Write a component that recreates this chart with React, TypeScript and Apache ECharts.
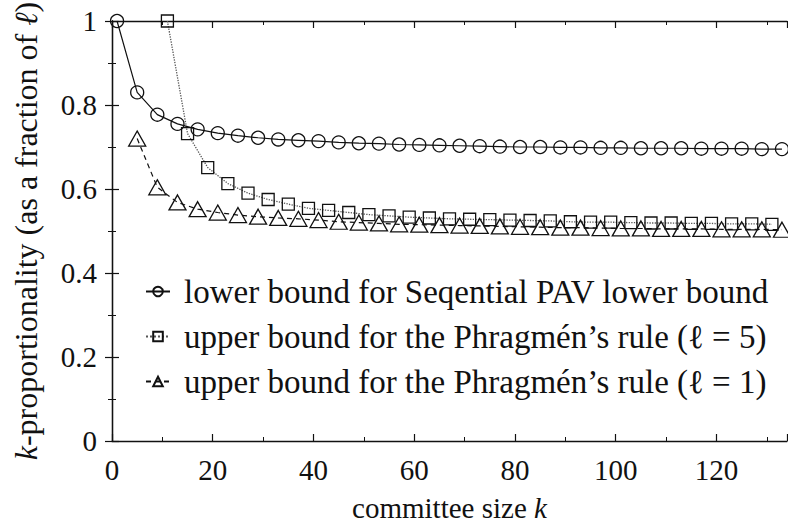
import React, { useEffect, useRef } from "react";
import * as echarts from "echarts";

const circleK = [1, 5, 9, 13, 17, 21, 25, 29, 33, 37, 41, 45, 49, 53, 57, 61, 65, 69, 73, 77, 81, 85, 89, 93, 97, 101, 105, 109, 113, 117, 121, 125, 129, 133];
const circleV = [1.0, 0.83, 0.777, 0.755, 0.742, 0.733, 0.727, 0.722, 0.718, 0.716, 0.714, 0.711, 0.709, 0.708, 0.706, 0.705, 0.704, 0.703, 0.702, 0.701, 0.7, 0.7, 0.699, 0.699, 0.698, 0.698, 0.697, 0.697, 0.697, 0.696, 0.696, 0.696, 0.695, 0.695];

const squareK = [11, 15, 19, 23, 27, 31, 35, 39, 43, 47, 51, 55, 59, 63, 67, 71, 75, 79, 83, 87, 91, 95, 99, 103, 107, 111, 115, 119, 123, 127, 131];
const squareV = [1.0, 0.732, 0.651, 0.613, 0.59, 0.575, 0.564, 0.554, 0.549, 0.544, 0.539, 0.536, 0.533, 0.531, 0.529, 0.528, 0.527, 0.526, 0.525, 0.524, 0.522, 0.521, 0.521, 0.52, 0.519, 0.519, 0.518, 0.518, 0.517, 0.517, 0.516];

const triangleK = [5, 9, 13, 17, 21, 25, 29, 33, 37, 41, 45, 49, 53, 57, 61, 65, 69, 73, 77, 81, 85, 89, 93, 97, 101, 105, 109, 113, 117, 121, 125, 129, 133];
const triangleV = [0.72, 0.604, 0.568, 0.552, 0.544, 0.538, 0.534, 0.531, 0.529, 0.526, 0.522, 0.52, 0.518, 0.516, 0.515, 0.514, 0.513, 0.512, 0.511, 0.51, 0.509, 0.508, 0.508, 0.507, 0.506, 0.506, 0.505, 0.505, 0.505, 0.504, 0.504, 0.504, 0.503];

const seriesNames = [
  "lower bound for Seqential PAV lower bound",
  "upper bound for the Phragmén’s rule (ℓ = 5)",
  "upper bound for the Phragmén’s rule (ℓ = 1)",
];

const xMin = 0;
const xMax = 134;
const xMajor = 20;
const xMinor = 10;
const yMin = 0;
const yMax = 1;
const yMajor = 0.2;

const FONT = "'Liberation Serif', 'Times New Roman', serif";
const INK = "#111";

function pairs(ks: number[], vs: number[]) {
  return ks.map((k, i) => [k, vs[i]]);
}

export default function App() {
  const ref = useRef<HTMLDivElement>(null);
  useEffect(() => {
    document.body.style.margin = "0";
    if (!ref.current) return;
    const chart = echarts.init(ref.current, undefined, { renderer: "svg" });
    const axisLine = { show: true, lineStyle: { color: INK, width: 1.3 } };
    const baseX = { type: "value", min: xMin, max: xMax, splitLine: { show: false } };
    const baseY = { type: "value", min: yMin, max: yMax, splitLine: { show: false } };
    const markerStyle = { color: "rgba(255,255,255,0)", borderColor: INK, borderWidth: 1.3 };
    chart.setOption({
      animation: false,
      backgroundColor: "#fff",
      textStyle: { fontFamily: FONT },
      grid: { left: 112, right: 1, top: 21, bottom: 90, containLabel: false, outerBoundsMode: "none" },
      xAxis: [
        {
          ...baseX,
          position: "bottom",
          interval: xMajor,
          axisLine,
          axisTick: { show: true, inside: true, length: 7, lineStyle: { color: INK, width: 1.2 } },
          axisLabel: {
            show: true,
            margin: 14,
            fontSize: 29,
            fontFamily: FONT,
            color: INK,
            formatter: (v: number) => (v % xMajor === 0 ? String(v) : ""),
          },
          name: "committee size {i|k}",
          nameLocation: "middle",
          nameGap: 52,
          nameTextStyle: {
            fontSize: 29,
            fontFamily: FONT,
            color: INK,
            rich: { i: { fontSize: 29, fontFamily: FONT, fontStyle: "italic", color: INK } },
          },
        },
        {
          ...baseX,
          position: "bottom",
          interval: xMinor,
          axisLine: { show: false },
          axisTick: { show: true, inside: true, length: 4, lineStyle: { color: INK, width: 1 } },
          axisLabel: { show: false },
        },
        {
          ...baseX,
          position: "top",
          interval: xMajor,
          axisLine,
          axisTick: { show: true, inside: true, length: 7, lineStyle: { color: INK, width: 1.2 } },
          axisLabel: { show: false },
        },
        {
          ...baseX,
          position: "top",
          interval: xMinor,
          axisLine: { show: false },
          axisTick: { show: true, inside: true, length: 4, lineStyle: { color: INK, width: 1 } },
          axisLabel: { show: false },
        },
      ],
      yAxis: [
        {
          ...baseY,
          position: "left",
          interval: yMajor,
          axisLine,
          axisTick: { show: true, inside: true, length: 7, lineStyle: { color: INK, width: 1.2 } },
          minorTick: { show: true, splitNumber: 2, length: 4, lineStyle: { color: INK, width: 1 } },
          axisLabel: {
            show: true,
            margin: 15,
            fontSize: 29,
            fontFamily: FONT,
            color: INK,
            formatter: (v: number) => String(Math.round(v * 10) / 10),
          },
          name: "{i|k}-proportionality (as a fraction of {i|ℓ})",
          nameLocation: "middle",
          nameGap: 70,
          nameTextStyle: {
            fontSize: 32,
            fontFamily: FONT,
            color: INK,
            rich: { i: { fontSize: 32, fontFamily: FONT, fontStyle: "italic", color: INK } },
          },
        },
        {
          ...baseY,
          position: "right",
          interval: yMajor,
          axisLine,
          axisTick: { show: true, inside: true, length: 7, lineStyle: { color: INK, width: 1.2 } },
          minorTick: { show: true, splitNumber: 2, length: 4, lineStyle: { color: INK, width: 1 } },
          axisLabel: { show: false },
        },
      ],
      legend: {
        orient: "vertical",
        left: 140,
        top: 270,
        itemWidth: 24,
        itemHeight: 12,
        itemGap: 12,
        textStyle: {
          fontSize: 33,
          fontFamily: FONT,
          color: INK,
          lineHeight: 30,
          padding: [0, 0, 0, 9],
        },
        data: seriesNames,
      },
      series: [
        {
          name: seriesNames[0],
          type: "line",
          data: pairs(circleK, circleV),
          symbol: "circle",
          symbolSize: 13,
          showAllSymbol: true,
          lineStyle: { color: INK, width: 1.2, type: "solid" },
          itemStyle: markerStyle,
          color: INK,
          z: 3,
        },
        {
          name: seriesNames[1],
          type: "line",
          data: pairs(squareK, squareV),
          symbol: "rect",
          symbolSize: 12,
          showAllSymbol: true,
          lineStyle: { color: "#555", width: 1.3, type: "dotted" },
          itemStyle: markerStyle,
          color: INK,
          z: 2,
        },
        {
          name: seriesNames[2],
          type: "line",
          data: pairs(triangleK, triangleV),
          symbol: "triangle",
          symbolSize: [17, 15],
          showAllSymbol: true,
          lineStyle: { color: INK, width: 1.2, type: [5, 4] },
          itemStyle: markerStyle,
          color: INK,
          z: 2,
        },
      ],
    });
    return () => chart.dispose();
  }, []);
  return <div ref={ref} style={{ width: 788, height: 531 }} />;
}
